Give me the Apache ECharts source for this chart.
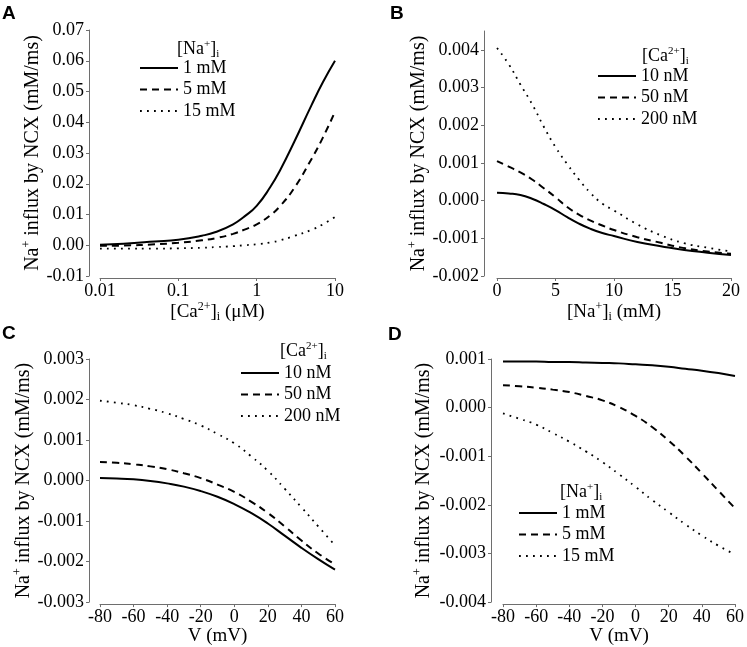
<!DOCTYPE html>
<html><head><meta charset="utf-8">
<script src="https://cdn.jsdelivr.net/npm/echarts@6/dist/echarts.min.js"></script>
<style>html,body{margin:0;padding:0;background:#fff}#c{width:747px;height:647px}</style>
</head><body><div id="c"></div>
<script>
// ---------- Panel A: flux vs [Ca2+]i (uM), log axis ----------
const aX     = [0.01, 0.02, 0.05, 0.1, 0.2, 0.3, 0.5, 0.7, 1, 1.5, 2, 3, 5, 7, 10];
const aNa1   = [0.0002, 0.0005, 0.0012, 0.0018, 0.0031, 0.0043, 0.0068, 0.0094, 0.0128, 0.0190, 0.0245, 0.0335, 0.0455, 0.053, 0.060];
const aNa5   = [-0.0002, -0.0001, 0.0003, 0.0008, 0.0016, 0.0023, 0.0037, 0.0051, 0.0068, 0.0098, 0.0128, 0.0185, 0.028, 0.035, 0.0434];
const aNa15  = [-0.0011, -0.0011, -0.0011, -0.0010, -0.0008, -0.0006, -0.0003, 0.0000, 0.0003, 0.0009, 0.0016, 0.0030, 0.0050, 0.0068, 0.0092];
// ---------- Panel B: flux vs [Na+]i (mM) ----------
const bX     = [0, 1, 2, 3, 4, 5, 6, 7, 8, 9, 10, 12, 14, 16, 18, 20];
const bCa10  = [0.00021, 0.00019, 0.00015, 0.00005, -0.00009, -0.00025, -0.00044, -0.00061, -0.00075, -0.00086, -0.00094, -0.0011, -0.00121, -0.00131, -0.00138, -0.00144];
const bCa50  = [0.00105, 0.0009, 0.00075, 0.00056, 0.00033, 0.00009, -0.00017, -0.00037, -0.00053, -0.00066, -0.00078, -0.00097, -0.00112, -0.00126, -0.00135, -0.00141];
const bCa200 = [0.00405, 0.00362, 0.00308, 0.00256, 0.00196, 0.00142, 0.00097, 0.00056, 0.0002, -0.00008, -0.00026, -0.00063, -0.00092, -0.00113, -0.00125, -0.00135];
const bYTicks = [-0.002, -0.001, 0, 0.001, 0.002, 0.003, 0.004];
// ---------- Panel C: flux vs V (mV), varying [Ca2+]i ----------
const cX     = [-80, -70, -60, -50, -40, -30, -20, -10, 0, 10, 20, 30, 40, 50, 60];
const cCa10  = [0.00006, 0.00005, 0.00003, -0.00001, -0.00007, -0.00015, -0.00026, -0.0004, -0.00058, -0.0008, -0.00106, -0.00136, -0.00166, -0.00194, -0.0022];
const cCa50  = [0.00046, 0.00044, 0.0004, 0.00035, 0.00028, 0.00018, 0.00006, -0.0001, -0.00028, -0.00052, -0.0008, -0.00113, -0.00148, -0.0018, -0.00207];
const cCa200 = [0.00197, 0.00192, 0.00186, 0.00177, 0.00166, 0.00152, 0.00136, 0.00115, 0.00092, 0.0006, 0.00024, -0.0002, -0.00066, -0.00113, -0.0016];
// ---------- Panel D: flux vs V (mV), varying [Na+]i ----------
const dX     = [-80, -70, -60, -50, -40, -30, -20, -10, 0, 10, 20, 30, 40, 50, 60];
const dNa1   = [0.00095, 0.00095, 0.00095, 0.00094, 0.00094, 0.00093, 0.00092, 0.00091, 0.00089, 0.00087, 0.00084, 0.0008, 0.00076, 0.00071, 0.00065];
const dNa5   = [0.00046, 0.00044, 0.00041, 0.00037, 0.00032, 0.00024, 0.00015, 0.00001, -0.00017, -0.0004, -0.00068, -0.001, -0.00135, -0.00171, -0.00207];
const dNa15  = [-0.00012, -0.00023, -0.00035, -0.00052, -0.0007, -0.0009, -0.00112, -0.00137, -0.00163, -0.0019, -0.00215, -0.0024, -0.00263, -0.00284, -0.00302];

const naNames = ['1 mM', '5 mM', '15 mM'];
const caNames = ['10 nM', '50 nM', '200 nM'];

const SERIF = "'Liberation Serif', 'Times New Roman', serif";
const SANS = "'Liberation Sans', Arial, sans-serif";
const AX = '#6e6e6e';

function rich(fs) {
  const s = Math.round(fs * 0.62);
  return {
    n:   { fontSize: fs, fontFamily: SERIF, fontWeight: 'normal', color: '#000', lineHeight: fs + 3 },
    sup: { fontSize: s, fontFamily: SERIF, fontWeight: 'normal', color: '#000', lineHeight: s, verticalAlign: 'top' },
    sub: { fontSize: s, fontFamily: SERIF, fontWeight: 'normal', color: '#000', lineHeight: s, verticalAlign: 'bottom' }
  };
}
const NA_I = '{n|[Na}{sup|+}{n|]}{sub|i}';
const CA_I = '{n|[Ca}{sup|2+}{n|]}{sub|i}';
const YNAME = '{n|Na}{sup|+}{n| influx by NCX (mM/ms)}';

const styles = [
  { width: 2, type: 'solid' },
  { width: 2, type: [7, 5] },
  { width: 1.8, type: [1.8, 5.2] }
];

function pairs(xs, ys) { return xs.map((x, i) => [x, ys[i]]); }

function mkSeries(idx, xs, list, names) {
  return list.map((ys, k) => ({
    type: 'line', name: names[k], xAxisIndex: idx, yAxisIndex: idx,
    data: pairs(xs, ys), smooth: 0.5, symbol: 'none', showSymbol: false,
    lineStyle: { color: '#000', width: styles[k].width, type: styles[k].type },
    itemStyle: { color: '#000' },
    animation: false, silent: true
  }));
}

function baseAxisStyle() {
  return {
    axisLine: { show: true, onZero: false, lineStyle: { color: AX, width: 1 } },
    axisTick: { show: true, length: 3, lineStyle: { color: AX, width: 1 } },
    splitLine: { show: false }
  };
}
const TICK_FS = 18;
function labelStyle(extra, fmt) {
  return Object.assign({
    color: '#000', fontFamily: SERIF, fontSize: TICK_FS,
    formatter: v => '{t|' + fmt(v) + '}',
    rich: { t: { fontFamily: SERIF, fontSize: TICK_FS, fontWeight: 'normal', color: '#000' } }
  }, extra);
}
const fixed = d => v => (Math.abs(v) < 1e-12 ? 0 : +v).toFixed(d);

function xAxis(idx, opts, name, gap, fmt) {
  return Object.assign({
    gridIndex: idx, offset: 2, name: name, nameLocation: 'middle', nameGap: gap,
    nameTextStyle: { rich: rich(19) },
    axisLabel: labelStyle({ margin: 4 }, fmt)
  }, baseAxisStyle(), opts);
}
function yAxis(idx, opts, offset, gap, dec, extraLabel) {
  return Object.assign({
    gridIndex: idx, type: 'value', offset: offset, name: YNAME, nameLocation: 'middle', nameGap: gap,
    nameTextStyle: { rich: rich(20) },
    axisLabel: labelStyle(Object.assign({ margin: 5 }, extraLabel || {}), fixed(dec))
  }, baseAxisStyle(), opts);
}

function legend(names, left, top) {
  return {
    data: names, orient: 'vertical', left: left, top: top, padding: 0,
    itemWidth: 38, itemHeight: 14, itemGap: 1.5, selectedMode: false,
    itemStyle: { opacity: 0, borderWidth: 0 },
    textStyle: { fontFamily: SERIF, fontSize: 18, color: '#000', lineHeight: 20 }
  };
}

function letter(t, left, top) {
  return { text: t, left: left, top: top, padding: 0,
    textStyle: { fontFamily: SANS, fontWeight: 'bold', fontSize: 19, color: '#000' } };
}
function legTitle(t, left, top) {
  return { text: t, left: left, top: top, padding: 0, textStyle: { fontWeight: 'normal', rich: rich(18) } };
}

const chart = echarts.init(document.getElementById('c'), null, { renderer: 'canvas' });
chart.setOption({
  backgroundColor: '#fff',
  animation: false,
  title: [
    letter('A', 2, 4), letter('B', 390, 4), letter('C', 2, 324), letter('D', 388, 325),
    legTitle(NA_I, 177, 39), legTitle(CA_I, 642, 46), legTitle(CA_I, 280, 341), legTitle(NA_I, 560, 482)
  ],
  legend: [
    legend(naNames, 139, 58),
    legend(caNames, 597, 66),
    legend(caNames, 240, 363),
    legend(naNames, 518, 503)
  ],
  grid: [
    { left: 100, top: 30, width: 235, height: 246 },
    { left: 497, top: 31, width: 234, height: 245 },
    { left: 100, top: 359, width: 235, height: 246 },
    { left: 503, top: 359, width: 235, height: 246 }
  ],
  xAxis: [
    xAxis(0, { type: 'log', logBase: 10, min: 0.01, max: 10, minorTick: { show: false } },
      '{n|[Ca}{sup|2+}{n|]}{sub|i}{n| (μM)}', 19, v => String(+(+v).toPrecision(3))),
    xAxis(1, { type: 'value', min: 0, max: 20, interval: 5 }, '{n|[Na}{sup|+}{n|]}{sub|i}{n| (mM)}', 18, v => String(v)),
    xAxis(2, { type: 'value', min: -80, max: 60, interval: 20 }, '{n|V (mV)}', 16, v => String(v)),
    xAxis(3, { type: 'value', min: -80, max: 60, interval: 20 }, '{n|V (mV)}', 16, v => String(v))
  ],
  yAxis: [
    yAxis(0, { min: -0.01, max: 0.07, interval: 0.01 }, 11, 45, 2),
    yAxis(1, { min: -0.002, max: 0.0045,
      axisTick: { show: true, length: 3, lineStyle: { color: AX, width: 1 }, customValues: bYTicks } },
      13, 50, 3, { customValues: bYTicks }),
    yAxis(2, { min: -0.003, max: 0.003, interval: 0.001 }, 11, 45, 3),
    yAxis(3, { min: -0.004, max: 0.001, interval: 0.001 }, 12, 56, 3)
  ],
  series: [].concat(
    mkSeries(0, aX, [aNa1, aNa5, aNa15], naNames),
    mkSeries(1, bX, [bCa10, bCa50, bCa200], caNames),
    mkSeries(2, cX, [cCa10, cCa50, cCa200], caNames),
    mkSeries(3, dX, [dNa1, dNa5, dNa15], naNames)
  )
});
</script>
</body></html>
